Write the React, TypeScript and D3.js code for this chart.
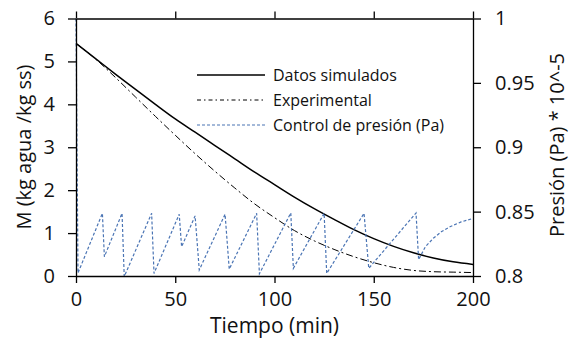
import React, { useEffect, useRef } from "react";
import * as d3 from "d3";

const simTime = [0, 10, 20, 30, 40, 50, 60, 70, 80, 90, 100, 110, 120, 130, 140, 150, 160, 170, 180, 190, 200];
const simM = [5.42, 5.06, 4.70, 4.35, 4.00, 3.66, 3.35, 3.04, 2.73, 2.42, 2.13, 1.84, 1.57, 1.32, 1.08, 0.87, 0.69, 0.54, 0.42, 0.33, 0.27];

const expTime = [0, 10, 20, 30, 40, 50, 60, 70, 80, 90, 100, 110, 120, 130, 140, 150, 160, 170, 180, 190, 200];
const expM = [5.42, 5.05, 4.62, 4.17, 3.72, 3.28, 2.85, 2.44, 2.05, 1.68, 1.36, 1.06, 0.82, 0.62, 0.45, 0.31, 0.20, 0.13, 0.10, 0.09, 0.08];

const presTime = [0, 1, 13.3, 14.3, 23.2, 24.3, 38.1, 39.3, 52, 53.2, 60, 62.1, 75.1, 77.2, 91, 92.4, 108.2, 109.5, 125, 126.3, 145.1, 147.5, 171.3, 172.6, 176, 180, 184, 188.4, 194, 200];
const presP = [1.0, 0.8023, 0.8487, 0.815, 0.8487, 0.7995, 0.8487, 0.802, 0.848, 0.8227, 0.8467, 0.8047, 0.848, 0.8053, 0.8487, 0.8017, 0.849, 0.806, 0.8487, 0.802, 0.8487, 0.806, 0.849, 0.8127, 0.8227, 0.8293, 0.8343, 0.8383, 0.842, 0.8447];

const xTicks = [0, 50, 100, 150, 200];
const yLeftTicks = [0, 1, 2, 3, 4, 5, 6];
const yRightTicks = [0.8, 0.85, 0.9, 0.95, 1];

const legendLabels = ["Datos simulados", "Experimental", "Control de presión (Pa)"];

const FONT = "'Open Sans', 'Liberation Sans', sans-serif";
const BLUE = "#4a74b4";

export default function App() {
  const ref = useRef<SVGSVGElement>(null);

  useEffect(() => {
    const svg = d3.select(ref.current);
    svg.selectAll("*").remove();

    const x = d3.scaleLinear().domain([0, 200]).range([76, 473]);
    const yL = d3.scaleLinear().domain([0, 6]).range([276, 18.5]);
    const yR = d3.scaleLinear().domain([0.8, 1]).range([276, 18.5]);

    const styleAxis = (g: any, showText: boolean) => {
      g.selectAll("path").attr("stroke", "#000").attr("stroke-width", 1.3);
      g.selectAll("line").attr("stroke", "#000").attr("stroke-width", 1.3);
      g.selectAll("text")
        .attr("font-family", FONT)
        .attr("font-size", 20)
        .attr("fill", "#111")
        .style("display", showText ? null : "none");
    };

    // Series lines
    const simLine = d3.line<number>().x((_, i) => x(simTime[i])).y((d) => yL(d)).curve(d3.curveMonotoneX);
    svg.append("path").attr("d", simLine(simM)).attr("fill", "none").attr("stroke", "#000").attr("stroke-width", 1.5);

    const expLine = d3.line<number>().x((_, i) => x(expTime[i])).y((d) => yL(d)).curve(d3.curveMonotoneX);
    svg.append("path").attr("d", expLine(expM)).attr("fill", "none").attr("stroke", "#000").attr("stroke-width", 1)
      .attr("stroke-dasharray", "7,3,2,3");

    const presLine = d3.line<number>().x((_, i) => x(presTime[i])).y((d) => yR(d));
    svg.append("path").attr("d", presLine(presP)).attr("fill", "none").attr("stroke", BLUE).attr("stroke-width", 1.2)
      .attr("stroke-dasharray", "3,2");

    // Axes
    const gBottom = svg.append("g").attr("transform", "translate(0,276)")
      .call(d3.axisBottom(x).tickValues(xTicks).tickSize(7).tickSizeOuter(0).tickPadding(9).tickFormat(d3.format("d")) as any);
    styleAxis(gBottom, true);

    const gTop = svg.append("g").attr("transform", "translate(0,18.5)")
      .call(d3.axisTop(x).tickValues(xTicks).tickSize(7).tickSizeOuter(0) as any);
    styleAxis(gTop, false);

    const gLeft = svg.append("g").attr("transform", "translate(76,0)")
      .call(d3.axisLeft(yL).tickValues(yLeftTicks).tickSize(8).tickSizeOuter(0).tickPadding(13).tickFormat(d3.format("d")) as any);
    styleAxis(gLeft, true);

    const gRight = svg.append("g").attr("transform", "translate(473,0)")
      .call(d3.axisRight(yR).tickValues(yRightTicks).tickSize(8).tickSizeOuter(0).tickPadding(14).tickFormat((d: any) => String(+d)) as any);
    styleAxis(gRight, true);

    // Axis titles
    svg.append("text").attr("x", 274.5).attr("y", 333).attr("text-anchor", "middle")
      .attr("font-family", FONT).attr("font-size", 21).attr("fill", "#111").text("Tiempo (min)");

    svg.append("text").attr("transform", "translate(31,147) rotate(-90)").attr("text-anchor", "middle")
      .attr("font-family", FONT).attr("font-size", 20).attr("fill", "#111").text("M (kg agua /kg ss)");

    svg.append("text").attr("transform", "translate(564,145) rotate(-90)").attr("text-anchor", "middle")
      .attr("font-family", FONT).attr("font-size", 20).attr("fill", "#111").text("Presión (Pa) * 10^-5");

    // Legend
    const legY = [75, 100, 125];
    const legStyles = [
      { stroke: "#000", width: 1.5, dash: null },
      { stroke: "#000", width: 1, dash: "4,3,1.5,3" },
      { stroke: BLUE, width: 1.2, dash: "3,2" },
    ];
    legendLabels.forEach((lab, i) => {
      svg.append("line").attr("x1", 197).attr("x2", 265).attr("y1", legY[i]).attr("y2", legY[i])
        .attr("stroke", legStyles[i].stroke).attr("stroke-width", legStyles[i].width)
        .attr("stroke-dasharray", legStyles[i].dash as any);
      svg.append("text").attr("x", 273).attr("y", legY[i]).attr("dominant-baseline", "central")
        .attr("font-family", FONT).attr("font-size", 16).attr("fill", "#111").text(lab);
    });
  }, []);

  return (
    <svg
      ref={ref}
      width={570}
      height={341}
      style={{ position: "absolute", left: 0, top: 0, background: "#fff" }}
    />
  );
}
